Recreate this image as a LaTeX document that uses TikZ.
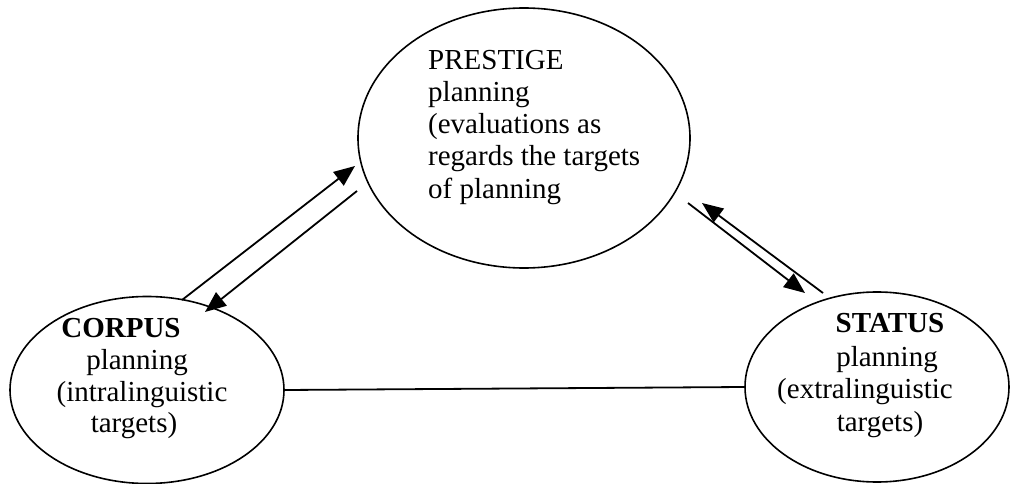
\documentclass[tikz,border=0pt]{standalone}
\usepackage{fontspec}
\setmainfont{Liberation Serif}
\usetikzlibrary{arrows.meta,shapes.geometric}
\begin{document}
\begin{tikzpicture}[x=1pt,y=-1pt,
  oval/.style={draw,ellipse,line width=1.6pt,inner sep=0pt},
  txt/.style={inner sep=0pt,font=\fontsize{29}{32}\selectfont},
  btxt/.style={txt,font=\fontsize{29}{32}\selectfont\bfseries},
  link/.style={line width=1.8pt},
  arr/.style={line width=1.8pt,-{Triangle[length=21pt,width=17pt]}}]
\useasboundingbox (0,0) rectangle (1010,484);
% ellipses
\node[oval,minimum width=332pt,minimum height=260pt] (prestige) at (524,138) {};
\node[oval,minimum width=274pt,minimum height=187pt] (corpus) at (147,390) {};
\node[oval,minimum width=264pt,minimum height=190pt] (status) at (877,387) {};
% top text
\node[txt,anchor=base west] (p1) at (428,70) {PRESTIGE};
\node[txt,anchor=base west] (p2) at (428,102) {planning};
\node[txt,anchor=base west] (p3) at (428,134) {(evaluations as};
\node[txt,anchor=base west] (p4) at (428,166) {regards the targets};
\node[txt,anchor=base west] (p5) at (428,198) {of planning};
% left text
\node[btxt,anchor=base] (c1) at (121,337) {CORPUS};
\node[txt,anchor=base] (c2) at (137,369) {planning};
\node[txt,anchor=base] (c3) at (142,401) {(intralinguistic};
\node[txt,anchor=base] (c4) at (134,432) {targets)};
% right text
\node[btxt,anchor=base] (s1) at (890,332) {STATUS};
\node[txt,anchor=base] (s2) at (887,366) {planning};
\node[txt,anchor=base] (s3) at (865,398) {(extralinguistic};
\node[txt,anchor=base] (s4) at (880,431) {targets)};
% connector between corpus and status
\draw[link] (corpus.east) -- (status.west);
% arrow end points
\coordinate (a1) at (182,300);
\coordinate (a2) at (355,166);
\coordinate (b1) at (357,191);
\coordinate (b2) at (205,312);
\coordinate (c1e) at (823,293);
\coordinate (c2e) at (702,203);
\coordinate (d1) at (688,203);
\coordinate (d2) at (805,293);
\draw[arr] (a1) -- (a2);
\draw[arr] (b1) -- (b2);
\draw[arr] (c1e) -- (c2e);
\draw[arr] (d1) -- (d2);
\end{tikzpicture}
\end{document}
